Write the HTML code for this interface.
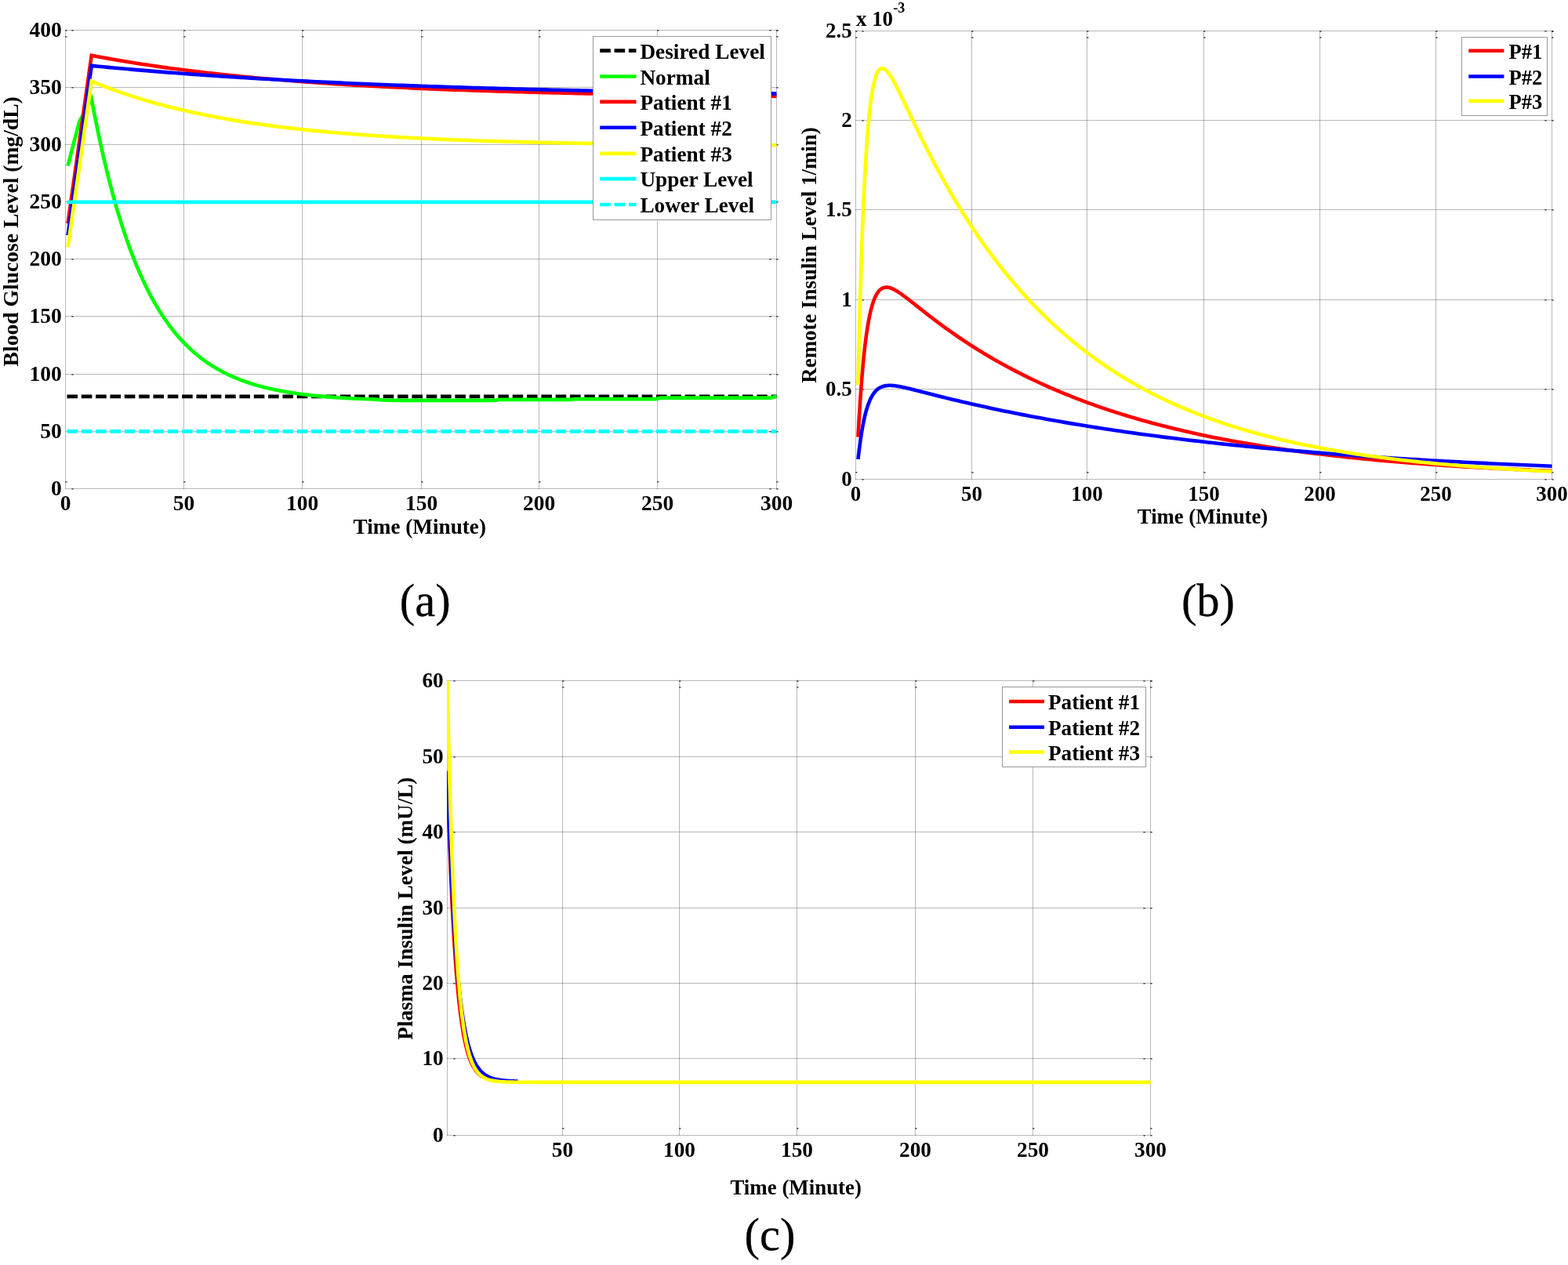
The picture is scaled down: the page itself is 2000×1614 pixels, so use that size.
<!DOCTYPE html>
<html lang="en">
<head>
<meta charset="utf-8">
<title>Glucose and insulin level simulation plots</title>
<style>
html,body{margin:0;padding:0;background:#fff;}
body{width:2000px;height:1614px;overflow:hidden;}
svg{display:block;}
text{font-family:"Liberation Serif", "DejaVu Serif", serif;fill:#000;}
.b{font-weight:bold;}
.r{font-weight:normal;stroke:#000;stroke-width:0.3px;}
</style>
</head>
<body>
<svg width="2000" height="1614" viewBox="0 0 2000 1614">
<defs>
<clipPath id="clip-a"><rect x="83" y="35.5" width="908" height="591"/></clipPath>
<clipPath id="clip-b"><rect x="1091" y="36.5" width="889" height="578"/></clipPath>
<clipPath id="clip-c"><rect x="570" y="865.5" width="898" height="586"/></clipPath>
</defs>
<rect x="0" y="0" width="2000" height="1614" fill="#ffffff"/>
<g id="plot-a">
<path d="M83.5 38 V624 M234.5 38 V624 M385.5 38 V624 M537.5 38 V624 M687.5 38 V624 M838.5 38 V624 M990.5 38 V624" fill="none" stroke="#000" stroke-opacity="0.28" stroke-width="1"/>
<path d="M83 623.5 H991 M83 550.5 H991 M83 477.5 H991 M83 403.5 H991 M83 330.5 H991 M83 257.5 H991 M83 184.5 H991 M83 111.5 H991 M83 38.5 H991" fill="none" stroke="#000" stroke-opacity="0.28" stroke-width="1"/>
<g fill="#2a2a2a" fill-opacity="0.85"><rect x="83.1" y="38.2" width="2.4" height="1.5"/><rect x="83.1" y="46.2" width="2.4" height="1.5"/><rect x="83.1" y="614.1" width="2.4" height="1.5"/><rect x="234.1" y="38.2" width="2.4" height="1.5"/><rect x="234.1" y="46.2" width="2.4" height="1.5"/><rect x="234.1" y="614.1" width="2.4" height="1.5"/><rect x="385.1" y="38.2" width="2.4" height="1.5"/><rect x="385.1" y="46.2" width="2.4" height="1.5"/><rect x="385.1" y="614.1" width="2.4" height="1.5"/><rect x="537.1" y="38.2" width="2.4" height="1.5"/><rect x="537.1" y="46.2" width="2.4" height="1.5"/><rect x="537.1" y="614.1" width="2.4" height="1.5"/><rect x="687.1" y="38.2" width="2.4" height="1.5"/><rect x="687.1" y="46.2" width="2.4" height="1.5"/><rect x="687.1" y="614.1" width="2.4" height="1.5"/><rect x="838.1" y="38.2" width="2.4" height="1.5"/><rect x="838.1" y="46.2" width="2.4" height="1.5"/><rect x="838.1" y="614.1" width="2.4" height="1.5"/><rect x="990.1" y="38.2" width="2.4" height="1.5"/><rect x="990.1" y="46.2" width="2.4" height="1.5"/><rect x="990.1" y="614.1" width="2.4" height="1.5"/><rect x="91.3" y="623.1" width="2.4" height="1.5"/><rect x="981.3" y="623.1" width="2.4" height="1.5"/><rect x="990.3" y="623.1" width="2.4" height="1.5"/><rect x="91.3" y="550.1" width="2.4" height="1.5"/><rect x="981.3" y="550.1" width="2.4" height="1.5"/><rect x="990.3" y="550.1" width="2.4" height="1.5"/><rect x="91.3" y="477.1" width="2.4" height="1.5"/><rect x="981.3" y="477.1" width="2.4" height="1.5"/><rect x="990.3" y="477.1" width="2.4" height="1.5"/><rect x="91.3" y="403.1" width="2.4" height="1.5"/><rect x="981.3" y="403.1" width="2.4" height="1.5"/><rect x="990.3" y="403.1" width="2.4" height="1.5"/><rect x="91.3" y="330.1" width="2.4" height="1.5"/><rect x="981.3" y="330.1" width="2.4" height="1.5"/><rect x="990.3" y="330.1" width="2.4" height="1.5"/><rect x="91.3" y="257.1" width="2.4" height="1.5"/><rect x="981.3" y="257.1" width="2.4" height="1.5"/><rect x="990.3" y="257.1" width="2.4" height="1.5"/><rect x="91.3" y="184.1" width="2.4" height="1.5"/><rect x="981.3" y="184.1" width="2.4" height="1.5"/><rect x="990.3" y="184.1" width="2.4" height="1.5"/><rect x="91.3" y="111.1" width="2.4" height="1.5"/><rect x="981.3" y="111.1" width="2.4" height="1.5"/><rect x="990.3" y="111.1" width="2.4" height="1.5"/><rect x="91.3" y="38.1" width="2.4" height="1.5"/><rect x="981.3" y="38.1" width="2.4" height="1.5"/><rect x="990.3" y="38.1" width="2.4" height="1.5"/></g>
<text x="83.5" y="650.9" text-anchor="middle" font-size="27.5" class="b">0</text>
<text x="234.5" y="650.9" text-anchor="middle" font-size="27.5" class="b">50</text>
<text x="385.5" y="650.9" text-anchor="middle" font-size="27.5" class="b">100</text>
<text x="537.5" y="650.9" text-anchor="middle" font-size="27.5" class="b">150</text>
<text x="687.5" y="650.9" text-anchor="middle" font-size="27.5" class="b">200</text>
<text x="838.5" y="650.9" text-anchor="middle" font-size="27.5" class="b">250</text>
<text x="990.5" y="650.9" text-anchor="middle" font-size="27.5" class="b">300</text>
<text x="78.8" y="632.2" text-anchor="end" font-size="27.5" class="b">0</text>
<text x="78.8" y="559.2" text-anchor="end" font-size="27.5" class="b">50</text>
<text x="78.8" y="486.2" text-anchor="end" font-size="27.5" class="b">100</text>
<text x="78.8" y="412.2" text-anchor="end" font-size="27.5" class="b">150</text>
<text x="78.8" y="339.2" text-anchor="end" font-size="27.5" class="b">200</text>
<text x="78.8" y="266.2" text-anchor="end" font-size="27.5" class="b">250</text>
<text x="78.8" y="193.2" text-anchor="end" font-size="27.5" class="b">300</text>
<text x="78.8" y="120.2" text-anchor="end" font-size="27.5" class="b">350</text>
<text x="78.8" y="47.2" text-anchor="end" font-size="27.5" class="b">400</text>
<path d="M85.47 505.84 L990.5 505.84" fill="none" stroke="#000000" stroke-width="4.6" stroke-linejoin="miter" stroke-miterlimit="4" stroke-linecap="butt" clip-path="url(#clip-a)" stroke-dasharray="13.6 4.73"/>
<path d="M86.52 211.66 L101.04 155.5 L116.76 126.25 L119.78 142.46 L125.83 172.33 L131.87 199.79 L137.92 225.03 L143.97 248.23 L150.01 269.54 L156.06 289.14 L162.11 307.14 L168.15 323.69 L174.2 338.9 L180.25 352.88 L186.29 365.73 L192.34 377.55 L198.39 388.4 L204.43 398.38 L210.48 407.56 L216.53 415.99 L222.57 423.74 L228.62 430.86 L234.67 437.41 L240.71 443.43 L246.76 448.97 L252.81 454.06 L258.85 458.73 L264.9 463.04 L270.95 466.99 L276.99 470.62 L283.04 473.97 L289.09 477.04 L295.13 479.87 L301.18 482.46 L307.23 484.85 L313.27 487.05 L319.32 489.07 L325.37 490.93 L331.41 492.64 L337.46 494.21 L343.51 495.65 L349.55 496.98 L355.6 498.2 L361.65 499.33 L367.69 500.36 L373.74 501.31 L379.79 502.19 L385.83 502.99 L391.88 503.73 L397.93 504.42 L403.97 505.04 L410.02 505.62 L416.07 506.15 L422.11 506.64 L428.16 507.09 L434.21 507.5 L440.25 507.88 L446.3 508.23 L452.35 508.52 L458.39 508.77 L464.44 509.01 L470.49 509.22 L476.53 509.41 L488.63 510.45 L506.77 510.89 L630.72 510.89 L636.77 509.86 L727.47 509.86 L733.52 509.13 L836.31 509.13 L842.36 507.67 L982.94 507.67 L990.5 505.62" fill="none" stroke="#00ff00" stroke-width="4.6" stroke-linejoin="miter" stroke-miterlimit="4" stroke-linecap="butt" clip-path="url(#clip-a)"/>
<path d="M86.52 285.08 L116.76 70.68 L119.78 71.26 L125.83 72.4 L131.87 73.52 L137.92 74.62 L143.97 75.69 L150.01 76.74 L156.06 77.77 L162.11 78.78 L168.15 79.76 L174.2 80.73 L180.25 81.67 L186.29 82.6 L192.34 83.5 L198.39 84.38 L204.43 85.25 L210.48 86.1 L216.53 86.93 L222.57 87.74 L228.62 88.53 L234.67 89.31 L240.71 90.07 L246.76 90.82 L252.81 91.55 L258.85 92.26 L264.9 92.96 L270.95 93.64 L276.99 94.31 L283.04 94.96 L289.09 95.6 L295.13 96.23 L301.18 96.85 L307.23 97.45 L313.27 98.03 L319.32 98.61 L325.37 99.17 L331.41 99.72 L337.46 100.26 L343.51 100.79 L349.55 101.31 L355.6 101.81 L361.65 102.31 L367.69 102.79 L373.74 103.27 L379.79 103.73 L385.83 104.19 L391.88 104.63 L397.93 105.07 L403.97 105.49 L410.02 105.91 L416.07 106.32 L422.11 106.72 L428.16 107.11 L434.21 107.49 L440.25 107.86 L446.3 108.23 L452.35 108.59 L458.39 108.94 L464.44 109.28 L470.49 109.62 L476.53 109.95 L482.58 110.27 L488.63 110.58 L494.67 110.89 L500.72 111.19 L506.77 111.49 L512.81 111.78 L518.86 112.06 L524.91 112.34 L530.95 112.61 L537 112.88 L543.05 113.13 L549.09 113.39 L555.14 113.64 L561.19 113.88 L567.23 114.12 L573.28 114.35 L579.33 114.58 L585.37 114.8 L591.42 115.02 L597.47 115.24 L603.51 115.45 L609.56 115.65 L615.61 115.85 L621.65 116.05 L627.7 116.24 L633.75 116.43 L639.79 116.61 L645.84 116.79 L651.89 116.97 L657.93 117.14 L663.98 117.31 L670.03 117.48 L676.07 117.64 L682.12 117.8 L688.17 117.95 L694.21 118.1 L700.26 118.25 L706.31 118.4 L712.35 118.54 L718.4 118.68 L724.45 118.81 L730.49 118.95 L736.54 119.08 L742.59 119.21 L748.63 119.33 L754.68 119.45 L760.73 119.57 L766.77 119.69 L772.82 119.8 L778.87 119.92 L784.91 120.03 L790.96 120.13 L797.01 120.24 L803.05 120.34 L809.1 120.44 L815.15 120.54 L821.19 120.64 L827.24 120.73 L833.29 120.83 L839.33 120.92 L845.38 121 L851.43 121.09 L857.47 121.18 L863.52 121.26 L869.57 121.34 L875.61 121.42 L881.66 121.5 L887.71 121.57 L893.75 121.65 L899.8 121.72 L905.85 121.79 L911.89 121.86 L917.94 121.93 L923.99 122 L930.03 122.06 L936.08 122.13 L942.13 122.19 L948.17 122.25 L954.22 122.31 L960.27 122.37 L966.31 122.43 L972.36 122.49 L978.41 122.54 L984.45 122.59 L990.5 122.65" fill="none" stroke="#ff0000" stroke-width="4.6" stroke-linejoin="miter" stroke-miterlimit="4" stroke-linecap="butt" clip-path="url(#clip-a)"/>
<path d="M86.52 300.29 L116.76 83.84 L119.78 84.14 L125.83 84.72 L131.87 85.31 L137.92 85.88 L143.97 86.44 L150.01 87 L156.06 87.54 L162.11 88.08 L168.15 88.61 L174.2 89.14 L180.25 89.65 L186.29 90.16 L192.34 90.66 L198.39 91.15 L204.43 91.64 L210.48 92.12 L216.53 92.59 L222.57 93.06 L228.62 93.51 L234.67 93.97 L240.71 94.41 L246.76 94.85 L252.81 95.28 L258.85 95.71 L264.9 96.12 L270.95 96.54 L276.99 96.94 L283.04 97.34 L289.09 97.74 L295.13 98.13 L301.18 98.51 L307.23 98.89 L313.27 99.26 L319.32 99.63 L325.37 99.99 L331.41 100.35 L337.46 100.7 L343.51 101.04 L349.55 101.38 L355.6 101.72 L361.65 102.05 L367.69 102.38 L373.74 102.7 L379.79 103.01 L385.83 103.32 L391.88 103.63 L397.93 103.93 L403.97 104.23 L410.02 104.53 L416.07 104.81 L422.11 105.1 L428.16 105.38 L434.21 105.66 L440.25 105.93 L446.3 106.2 L452.35 106.46 L458.39 106.72 L464.44 106.98 L470.49 107.24 L476.53 107.48 L482.58 107.73 L488.63 107.97 L494.67 108.21 L500.72 108.45 L506.77 108.68 L512.81 108.91 L518.86 109.13 L524.91 109.35 L530.95 109.57 L537 109.79 L543.05 110 L549.09 110.21 L555.14 110.41 L561.19 110.62 L567.23 110.82 L573.28 111.01 L579.33 111.21 L585.37 111.4 L591.42 111.59 L597.47 111.77 L603.51 111.95 L609.56 112.13 L615.61 112.31 L621.65 112.49 L627.7 112.66 L633.75 112.83 L639.79 113 L645.84 113.16 L651.89 113.32 L657.93 113.48 L663.98 113.64 L670.03 113.8 L676.07 113.95 L682.12 114.1 L688.17 114.25 L694.21 114.39 L700.26 114.54 L706.31 114.68 L712.35 114.82 L718.4 114.96 L724.45 115.1 L730.49 115.23 L736.54 115.36 L742.59 115.49 L748.63 115.62 L754.68 115.75 L760.73 115.87 L766.77 115.99 L772.82 116.11 L778.87 116.23 L784.91 116.35 L790.96 116.46 L797.01 116.58 L803.05 116.69 L809.1 116.8 L815.15 116.91 L821.19 117.02 L827.24 117.12 L833.29 117.23 L839.33 117.33 L845.38 117.43 L851.43 117.53 L857.47 117.63 L863.52 117.73 L869.57 117.82 L875.61 117.91 L881.66 118.01 L887.71 118.1 L893.75 118.19 L899.8 118.28 L905.85 118.36 L911.89 118.45 L917.94 118.53 L923.99 118.62 L930.03 118.7 L936.08 118.78 L942.13 118.86 L948.17 118.94 L954.22 119.02 L960.27 119.09 L966.31 119.17 L972.36 119.24 L978.41 119.31 L984.45 119.39 L990.5 119.46" fill="none" stroke="#0000ff" stroke-width="4.6" stroke-linejoin="miter" stroke-miterlimit="4" stroke-linecap="butt" clip-path="url(#clip-a)"/>
<path d="M86.52 315.64 L116.76 103.58 L119.78 104.84 L125.83 107.31 L131.87 109.7 L137.92 112.02 L143.97 114.27 L150.01 116.45 L156.06 118.56 L162.11 120.61 L168.15 122.6 L174.2 124.53 L180.25 126.39 L186.29 128.21 L192.34 129.96 L198.39 131.67 L204.43 133.32 L210.48 134.92 L216.53 136.48 L222.57 137.99 L228.62 139.45 L234.67 140.86 L240.71 142.24 L246.76 143.57 L252.81 144.86 L258.85 146.12 L264.9 147.33 L270.95 148.51 L276.99 149.65 L283.04 150.76 L289.09 151.83 L295.13 152.87 L301.18 153.88 L307.23 154.86 L313.27 155.81 L319.32 156.74 L325.37 157.63 L331.41 158.49 L337.46 159.33 L343.51 160.15 L349.55 160.94 L355.6 161.7 L361.65 162.45 L367.69 163.17 L373.74 163.87 L379.79 164.54 L385.83 165.2 L391.88 165.84 L397.93 166.45 L403.97 167.05 L410.02 167.63 L416.07 168.2 L422.11 168.74 L428.16 169.27 L434.21 169.78 L440.25 170.28 L446.3 170.76 L452.35 171.23 L458.39 171.69 L464.44 172.13 L470.49 172.55 L476.53 172.97 L482.58 173.37 L488.63 173.76 L494.67 174.14 L500.72 174.5 L506.77 174.86 L512.81 175.2 L518.86 175.53 L524.91 175.86 L530.95 176.17 L537 176.48 L543.05 176.77 L549.09 177.06 L555.14 177.33 L561.19 177.6 L567.23 177.86 L573.28 178.12 L579.33 178.36 L585.37 178.6 L591.42 178.83 L597.47 179.05 L603.51 179.27 L609.56 179.48 L615.61 179.69 L621.65 179.88 L627.7 180.08 L633.75 180.26 L639.79 180.44 L645.84 180.62 L651.89 180.79 L657.93 180.95 L663.98 181.11 L670.03 181.26 L676.07 181.41 L682.12 181.56 L688.17 181.7 L694.21 181.84 L700.26 181.97 L706.31 182.1 L712.35 182.22 L718.4 182.34 L724.45 182.46 L730.49 182.57 L736.54 182.69 L742.59 182.79 L748.63 182.9 L754.68 183 L760.73 183.09 L766.77 183.19 L772.82 183.28 L778.87 183.37 L784.91 183.45 L790.96 183.54 L797.01 183.62 L803.05 183.7 L809.1 183.77 L815.15 183.85 L821.19 183.92 L827.24 183.99 L833.29 184.06 L839.33 184.12 L845.38 184.19 L851.43 184.25 L857.47 184.31 L863.52 184.36 L869.57 184.42 L875.61 184.47 L881.66 184.53 L887.71 184.58 L893.75 184.63 L899.8 184.68 L905.85 184.72 L911.89 184.77 L917.94 184.81 L923.99 184.85 L930.03 184.89 L936.08 184.93 L942.13 184.97 L948.17 185.01 L954.22 185.05 L960.27 185.08 L966.31 185.12 L972.36 185.15 L978.41 185.18 L984.45 185.21 L990.5 185.24" fill="none" stroke="#ffff00" stroke-width="4.6" stroke-linejoin="miter" stroke-miterlimit="4" stroke-linecap="butt" clip-path="url(#clip-a)"/>
<path d="M85.47 257.88 L990.5 257.88" fill="none" stroke="#00ffff" stroke-width="4.6" stroke-linejoin="miter" stroke-miterlimit="4" stroke-linecap="butt" clip-path="url(#clip-a)"/>
<path d="M85.47 550.38 L990.5 550.38" fill="none" stroke="#00ffff" stroke-width="4.6" stroke-linejoin="miter" stroke-miterlimit="4" stroke-linecap="butt" clip-path="url(#clip-a)" stroke-dasharray="13.6 4.73"/>
<rect x="756.5" y="46.5" width="227" height="234" fill="#fff" stroke="#999" stroke-width="1"/>
<path d="M765.25 64.6 H811.5" stroke="#000000" stroke-width="4.6" stroke-dasharray="13.6 4.73"/>
<text x="816.4" y="74.7" font-size="27.3" class="b">Desired Level</text>
<path d="M765.25 97.5 H811.5" stroke="#00ff00" stroke-width="4.6"/>
<text x="816.4" y="107.6" font-size="27.3" class="b">Normal</text>
<path d="M765.25 129.9 H811.5" stroke="#ff0000" stroke-width="4.6"/>
<text x="816.4" y="140" font-size="27.3" class="b">Patient #1</text>
<path d="M765.25 162.8 H811.5" stroke="#0000ff" stroke-width="4.6"/>
<text x="816.4" y="172.9" font-size="27.3" class="b">Patient #2</text>
<path d="M765.25 195.9 H811.5" stroke="#ffff00" stroke-width="4.6"/>
<text x="816.4" y="206" font-size="27.3" class="b">Patient #3</text>
<path d="M765.25 228.1 H811.5" stroke="#00ffff" stroke-width="4.6"/>
<text x="816.4" y="238.2" font-size="27.3" class="b">Upper Level</text>
<path d="M765.25 261 H811.5" stroke="#00ffff" stroke-width="4.6" stroke-dasharray="13.6 4.73"/>
<text x="816.4" y="271.1" font-size="27.3" class="b">Lower Level</text>
<text transform="translate(23,295.3) rotate(-90)" text-anchor="middle" font-size="27.6" class="b">Blood Glucose Level (mg/dL)</text>
<text x="535.3" y="680.6" text-anchor="middle" font-size="27.2" class="b">Time (Minute)</text>
</g>
<text x="542.3" y="786" text-anchor="middle" font-size="58.5" class="r">(a)</text>
<g id="plot-b">
<path d="M1091.5 39 V612 M1239.5 39 V612 M1386.5 39 V612 M1535.5 39 V612 M1683.5 39 V612 M1831.5 39 V612 M1979.5 39 V612" fill="none" stroke="#000" stroke-opacity="0.28" stroke-width="1"/>
<path d="M1091 611.5 H1980 M1091 496.5 H1980 M1091 382.5 H1980 M1091 267.5 H1980 M1091 153.5 H1980 M1091 39.5 H1980" fill="none" stroke="#000" stroke-opacity="0.28" stroke-width="1"/>
<g fill="#2a2a2a" fill-opacity="0.85"><rect x="1091.1" y="39.2" width="2.4" height="1.5"/><rect x="1091.1" y="47.2" width="2.4" height="1.5"/><rect x="1091.1" y="602.1" width="2.4" height="1.5"/><rect x="1239.1" y="39.2" width="2.4" height="1.5"/><rect x="1239.1" y="47.2" width="2.4" height="1.5"/><rect x="1239.1" y="602.1" width="2.4" height="1.5"/><rect x="1386.1" y="39.2" width="2.4" height="1.5"/><rect x="1386.1" y="47.2" width="2.4" height="1.5"/><rect x="1386.1" y="602.1" width="2.4" height="1.5"/><rect x="1535.1" y="39.2" width="2.4" height="1.5"/><rect x="1535.1" y="47.2" width="2.4" height="1.5"/><rect x="1535.1" y="602.1" width="2.4" height="1.5"/><rect x="1683.1" y="39.2" width="2.4" height="1.5"/><rect x="1683.1" y="47.2" width="2.4" height="1.5"/><rect x="1683.1" y="602.1" width="2.4" height="1.5"/><rect x="1831.1" y="39.2" width="2.4" height="1.5"/><rect x="1831.1" y="47.2" width="2.4" height="1.5"/><rect x="1831.1" y="602.1" width="2.4" height="1.5"/><rect x="1979.1" y="39.2" width="2.4" height="1.5"/><rect x="1979.1" y="47.2" width="2.4" height="1.5"/><rect x="1979.1" y="602.1" width="2.4" height="1.5"/><rect x="1099.3" y="611.1" width="2.4" height="1.5"/><rect x="1970.3" y="611.1" width="2.4" height="1.5"/><rect x="1979.3" y="611.1" width="2.4" height="1.5"/><rect x="1099.3" y="496.1" width="2.4" height="1.5"/><rect x="1970.3" y="496.1" width="2.4" height="1.5"/><rect x="1979.3" y="496.1" width="2.4" height="1.5"/><rect x="1099.3" y="382.1" width="2.4" height="1.5"/><rect x="1970.3" y="382.1" width="2.4" height="1.5"/><rect x="1979.3" y="382.1" width="2.4" height="1.5"/><rect x="1099.3" y="267.1" width="2.4" height="1.5"/><rect x="1970.3" y="267.1" width="2.4" height="1.5"/><rect x="1979.3" y="267.1" width="2.4" height="1.5"/><rect x="1099.3" y="153.1" width="2.4" height="1.5"/><rect x="1970.3" y="153.1" width="2.4" height="1.5"/><rect x="1979.3" y="153.1" width="2.4" height="1.5"/><rect x="1099.3" y="39.1" width="2.4" height="1.5"/><rect x="1970.3" y="39.1" width="2.4" height="1.5"/><rect x="1979.3" y="39.1" width="2.4" height="1.5"/></g>
<text x="1091.5" y="638.5" text-anchor="middle" font-size="26.9" class="b">0</text>
<text x="1239.5" y="638.5" text-anchor="middle" font-size="26.9" class="b">50</text>
<text x="1386.5" y="638.5" text-anchor="middle" font-size="26.9" class="b">100</text>
<text x="1535.5" y="638.5" text-anchor="middle" font-size="26.9" class="b">150</text>
<text x="1683.5" y="638.5" text-anchor="middle" font-size="26.9" class="b">200</text>
<text x="1831.5" y="638.5" text-anchor="middle" font-size="26.9" class="b">250</text>
<text x="1979.5" y="638.5" text-anchor="middle" font-size="26.9" class="b">300</text>
<text x="1086.7" y="620.3" text-anchor="end" font-size="26.9" class="b">0</text>
<text x="1086.7" y="505.3" text-anchor="end" font-size="26.9" class="b">0.5</text>
<text x="1086.7" y="391.3" text-anchor="end" font-size="26.9" class="b">1</text>
<text x="1086.7" y="276.3" text-anchor="end" font-size="26.9" class="b">1.5</text>
<text x="1086.7" y="162.3" text-anchor="end" font-size="26.9" class="b">2</text>
<text x="1086.7" y="48.3" text-anchor="end" font-size="26.9" class="b">2.5</text>
<path d="M1094.46 557.51 L1095.94 531 L1097.42 507.78 L1098.9 487.47 L1100.38 469.73 L1101.86 454.25 L1103.34 440.77 L1104.82 429.05 L1106.3 418.89 L1107.78 410.09 L1109.26 402.5 L1110.74 395.97 L1112.22 390.39 L1113.7 385.63 L1115.18 381.6 L1116.66 378.22 L1118.14 375.4 L1119.62 373.08 L1121.1 371.19 L1122.58 369.7 L1124.06 368.55 L1125.54 367.69 L1127.02 367.1 L1128.5 366.74 L1129.98 366.58 L1131.46 366.6 L1132.94 366.78 L1134.42 367.1 L1135.9 367.54 L1137.38 368.08 L1138.86 368.71 L1140.34 369.43 L1141.82 370.21 L1143.3 371.06 L1144.78 371.95 L1146.26 372.9 L1147.74 373.88 L1149.22 374.9 L1150.7 375.95 L1152.18 377.02 L1153.66 378.12 L1155.14 379.23 L1156.62 380.36 L1158.1 381.5 L1159.58 382.65 L1161.06 383.81 L1162.54 384.97 L1164.02 386.14 L1165.5 387.31 L1166.98 388.49 L1168.46 389.67 L1169.94 390.84 L1171.42 392.02 L1172.9 393.2 L1174.38 394.37 L1175.86 395.54 L1177.34 396.71 L1178.82 397.87 L1180.3 399.04 L1181.78 400.19 L1183.26 401.35 L1184.74 402.5 L1186.22 403.64 L1187.7 404.78 L1189.18 405.92 L1190.66 407.05 L1192.14 408.17 L1193.62 409.29 L1195.1 410.41 L1196.58 411.51 L1198.06 412.62 L1199.54 413.72 L1201.02 414.81 L1202.5 415.89 L1203.98 416.97 L1205.46 418.05 L1206.94 419.12 L1208.42 420.18 L1209.9 421.24 L1215.82 425.42 L1221.74 429.5 L1227.66 433.5 L1233.58 437.41 L1239.5 441.24 L1245.42 444.98 L1251.34 448.64 L1257.26 452.22 L1263.18 455.72 L1269.1 459.14 L1275.02 462.49 L1280.94 465.76 L1286.86 468.97 L1292.78 472.1 L1298.7 475.16 L1304.62 478.16 L1310.54 481.09 L1316.46 483.96 L1322.38 486.76 L1328.3 489.5 L1334.22 492.18 L1340.14 494.8 L1346.06 497.37 L1351.98 499.88 L1357.9 502.33 L1363.82 504.73 L1369.74 507.08 L1375.66 509.37 L1381.58 511.62 L1387.5 513.81 L1393.42 515.96 L1399.34 518.06 L1405.26 520.11 L1411.18 522.12 L1417.1 524.08 L1423.02 526.01 L1428.94 527.88 L1434.86 529.72 L1440.78 531.52 L1446.7 533.28 L1452.62 535 L1458.54 536.68 L1464.46 538.32 L1470.38 539.93 L1476.3 541.5 L1482.22 543.04 L1488.14 544.55 L1494.06 546.02 L1499.98 547.46 L1505.9 548.86 L1511.82 550.24 L1517.74 551.59 L1523.66 552.9 L1529.58 554.19 L1535.5 555.45 L1541.42 556.68 L1547.34 557.89 L1553.26 559.07 L1559.18 560.22 L1565.1 561.34 L1571.02 562.45 L1576.94 563.53 L1582.86 564.58 L1588.78 565.61 L1594.7 566.62 L1600.62 567.61 L1606.54 568.57 L1612.46 569.51 L1618.38 570.44 L1624.3 571.34 L1630.22 572.22 L1636.14 573.08 L1642.06 573.93 L1647.98 574.75 L1653.9 575.56 L1659.82 576.35 L1665.74 577.12 L1671.66 577.88 L1677.58 578.62 L1683.5 579.34 L1689.42 580.05 L1695.34 580.74 L1701.26 581.42 L1707.18 582.08 L1713.1 582.72 L1719.02 583.36 L1724.94 583.97 L1730.86 584.58 L1736.78 585.17 L1742.7 585.75 L1748.62 586.32 L1754.54 586.87 L1760.46 587.41 L1766.38 587.94 L1772.3 588.46 L1778.22 588.96 L1784.14 589.46 L1790.06 589.94 L1795.98 590.42 L1801.9 590.88 L1807.82 591.33 L1813.74 591.78 L1819.66 592.21 L1825.58 592.63 L1831.5 593.05 L1837.42 593.45 L1843.34 593.85 L1849.26 594.24 L1855.18 594.62 L1861.1 594.99 L1867.02 595.35 L1872.94 595.71 L1878.86 596.05 L1884.78 596.39 L1890.7 596.73 L1896.62 597.05 L1902.54 597.37 L1908.46 597.68 L1914.38 597.98 L1920.3 598.28 L1926.22 598.57 L1932.14 598.85 L1938.06 599.13 L1943.98 599.4 L1949.9 599.67 L1955.82 599.93 L1961.74 600.18 L1967.66 600.43 L1973.58 600.68 L1979.5 600.91" fill="none" stroke="#ff0000" stroke-width="4.6" stroke-linejoin="miter" stroke-miterlimit="4" stroke-linecap="butt" clip-path="url(#clip-b)"/>
<path d="M1094.46 586.1 L1095.94 573.34 L1097.42 562.18 L1098.9 552.41 L1100.38 543.87 L1101.86 536.41 L1103.34 529.91 L1104.82 524.24 L1106.3 519.31 L1107.78 515.03 L1109.26 511.31 L1110.74 508.1 L1112.22 505.32 L1113.7 502.93 L1115.18 500.89 L1116.66 499.14 L1118.14 497.65 L1119.62 496.4 L1121.1 495.35 L1122.58 494.48 L1124.06 493.76 L1125.54 493.18 L1127.02 492.72 L1128.5 492.37 L1129.98 492.12 L1131.46 491.94 L1132.94 491.84 L1134.42 491.8 L1135.9 491.81 L1137.38 491.87 L1138.86 491.98 L1140.34 492.12 L1141.82 492.3 L1143.3 492.5 L1144.78 492.73 L1146.26 492.98 L1147.74 493.25 L1149.22 493.54 L1150.7 493.84 L1152.18 494.15 L1153.66 494.47 L1155.14 494.8 L1156.62 495.14 L1158.1 495.49 L1159.58 495.84 L1161.06 496.2 L1162.54 496.56 L1164.02 496.93 L1165.5 497.3 L1166.98 497.67 L1168.46 498.04 L1169.94 498.42 L1171.42 498.79 L1172.9 499.17 L1174.38 499.55 L1175.86 499.93 L1177.34 500.31 L1178.82 500.68 L1180.3 501.06 L1181.78 501.44 L1183.26 501.82 L1184.74 502.19 L1186.22 502.57 L1187.7 502.95 L1189.18 503.32 L1190.66 503.7 L1192.14 504.07 L1193.62 504.44 L1195.1 504.81 L1196.58 505.18 L1198.06 505.55 L1199.54 505.92 L1201.02 506.29 L1202.5 506.65 L1203.98 507.02 L1205.46 507.38 L1206.94 507.74 L1208.42 508.11 L1209.9 508.47 L1215.82 509.89 L1221.74 511.3 L1227.66 512.7 L1233.58 514.07 L1239.5 515.42 L1245.42 516.75 L1251.34 518.07 L1257.26 519.37 L1263.18 520.65 L1269.1 521.91 L1275.02 523.15 L1280.94 524.38 L1286.86 525.59 L1292.78 526.78 L1298.7 527.96 L1304.62 529.12 L1310.54 530.26 L1316.46 531.39 L1322.38 532.51 L1328.3 533.6 L1334.22 534.68 L1340.14 535.75 L1346.06 536.8 L1351.98 537.84 L1357.9 538.86 L1363.82 539.87 L1369.74 540.87 L1375.66 541.85 L1381.58 542.82 L1387.5 543.77 L1393.42 544.71 L1399.34 545.64 L1405.26 546.55 L1411.18 547.46 L1417.1 548.34 L1423.02 549.22 L1428.94 550.09 L1434.86 550.94 L1440.78 551.78 L1446.7 552.61 L1452.62 553.43 L1458.54 554.23 L1464.46 555.03 L1470.38 555.81 L1476.3 556.59 L1482.22 557.35 L1488.14 558.1 L1494.06 558.84 L1499.98 559.58 L1505.9 560.3 L1511.82 561.01 L1517.74 561.71 L1523.66 562.4 L1529.58 563.08 L1535.5 563.75 L1541.42 564.42 L1547.34 565.07 L1553.26 565.72 L1559.18 566.35 L1565.1 566.98 L1571.02 567.6 L1576.94 568.21 L1582.86 568.81 L1588.78 569.4 L1594.7 569.99 L1600.62 570.56 L1606.54 571.13 L1612.46 571.69 L1618.38 572.25 L1624.3 572.79 L1630.22 573.33 L1636.14 573.86 L1642.06 574.38 L1647.98 574.9 L1653.9 575.4 L1659.82 575.91 L1665.74 576.4 L1671.66 576.89 L1677.58 577.37 L1683.5 577.84 L1689.42 578.31 L1695.34 578.77 L1701.26 579.23 L1707.18 579.67 L1713.1 580.12 L1719.02 580.55 L1724.94 580.98 L1730.86 581.41 L1736.78 581.82 L1742.7 582.24 L1748.62 582.64 L1754.54 583.04 L1760.46 583.44 L1766.38 583.83 L1772.3 584.21 L1778.22 584.59 L1784.14 584.96 L1790.06 585.33 L1795.98 585.7 L1801.9 586.06 L1807.82 586.41 L1813.74 586.76 L1819.66 587.1 L1825.58 587.44 L1831.5 587.77 L1837.42 588.1 L1843.34 588.43 L1849.26 588.75 L1855.18 589.06 L1861.1 589.38 L1867.02 589.68 L1872.94 589.99 L1878.86 590.29 L1884.78 590.58 L1890.7 590.87 L1896.62 591.16 L1902.54 591.44 L1908.46 591.72 L1914.38 591.99 L1920.3 592.26 L1926.22 592.53 L1932.14 592.79 L1938.06 593.05 L1943.98 593.31 L1949.9 593.56 L1955.82 593.81 L1961.74 594.06 L1967.66 594.3 L1973.58 594.54 L1979.5 594.77" fill="none" stroke="#0000ff" stroke-width="4.6" stroke-linejoin="miter" stroke-miterlimit="4" stroke-linecap="butt" clip-path="url(#clip-b)"/>
<path d="M1094.46 491 L1095.94 426.73 L1097.42 371.58 L1098.9 324.32 L1100.38 283.91 L1101.86 249.41 L1103.34 220.05 L1104.82 195.13 L1106.3 174.07 L1107.78 156.33 L1109.26 141.49 L1110.74 129.14 L1112.22 118.95 L1113.7 110.64 L1115.18 103.94 L1116.66 98.65 L1118.14 94.56 L1119.62 91.51 L1121.1 89.37 L1122.58 88.01 L1124.06 87.32 L1125.54 87.21 L1127.02 87.6 L1128.5 88.41 L1129.98 89.6 L1131.46 91.1 L1132.94 92.87 L1134.42 94.87 L1135.9 97.07 L1137.38 99.44 L1138.86 101.95 L1140.34 104.58 L1141.82 107.31 L1143.3 110.13 L1144.78 113.01 L1146.26 115.96 L1147.74 118.95 L1149.22 121.98 L1150.7 125.04 L1152.18 128.12 L1153.66 131.21 L1155.14 134.32 L1156.62 137.44 L1158.1 140.56 L1159.58 143.68 L1161.06 146.79 L1162.54 149.9 L1164.02 153.01 L1165.5 156.1 L1166.98 159.18 L1168.46 162.26 L1169.94 165.31 L1171.42 168.36 L1172.9 171.38 L1174.38 174.4 L1175.86 177.39 L1177.34 180.37 L1178.82 183.33 L1180.3 186.28 L1181.78 189.2 L1183.26 192.11 L1184.74 195 L1186.22 197.87 L1187.7 200.73 L1189.18 203.56 L1190.66 206.38 L1192.14 209.18 L1193.62 211.95 L1195.1 214.71 L1196.58 217.46 L1198.06 220.18 L1199.54 222.89 L1201.02 225.57 L1202.5 228.24 L1203.98 230.89 L1205.46 233.52 L1206.94 236.14 L1208.42 238.73 L1209.9 241.31 L1215.82 251.45 L1221.74 261.31 L1227.66 270.91 L1233.58 280.24 L1239.5 289.31 L1245.42 298.14 L1251.34 306.72 L1257.26 315.07 L1263.18 323.19 L1269.1 331.09 L1275.02 338.77 L1280.94 346.24 L1286.86 353.51 L1292.78 360.58 L1298.7 367.45 L1304.62 374.14 L1310.54 380.64 L1316.46 386.97 L1322.38 393.12 L1328.3 399.1 L1334.22 404.92 L1340.14 410.58 L1346.06 416.08 L1351.98 421.44 L1357.9 426.64 L1363.82 431.71 L1369.74 436.63 L1375.66 441.42 L1381.58 446.08 L1387.5 450.61 L1393.42 455.02 L1399.34 459.31 L1405.26 463.48 L1411.18 467.53 L1417.1 471.48 L1423.02 475.31 L1428.94 479.04 L1434.86 482.67 L1440.78 486.2 L1446.7 489.63 L1452.62 492.97 L1458.54 496.22 L1464.46 499.38 L1470.38 502.45 L1476.3 505.44 L1482.22 508.34 L1488.14 511.17 L1494.06 513.92 L1499.98 516.59 L1505.9 519.19 L1511.82 521.72 L1517.74 524.18 L1523.66 526.57 L1529.58 528.9 L1535.5 531.16 L1541.42 533.36 L1547.34 535.5 L1553.26 537.58 L1559.18 539.61 L1565.1 541.58 L1571.02 543.49 L1576.94 545.36 L1582.86 547.17 L1588.78 548.93 L1594.7 550.65 L1600.62 552.31 L1606.54 553.93 L1612.46 555.51 L1618.38 557.05 L1624.3 558.54 L1630.22 559.99 L1636.14 561.4 L1642.06 562.77 L1647.98 564.11 L1653.9 565.41 L1659.82 566.67 L1665.74 567.9 L1671.66 569.09 L1677.58 570.25 L1683.5 571.38 L1689.42 572.48 L1695.34 573.55 L1701.26 574.59 L1707.18 575.6 L1713.1 576.58 L1719.02 577.54 L1724.94 578.47 L1730.86 579.38 L1736.78 580.26 L1742.7 581.11 L1748.62 581.95 L1754.54 582.75 L1760.46 583.54 L1766.38 584.31 L1772.3 585.05 L1778.22 585.78 L1784.14 586.48 L1790.06 587.17 L1795.98 587.83 L1801.9 588.48 L1807.82 589.11 L1813.74 589.73 L1819.66 590.32 L1825.58 590.9 L1831.5 591.47 L1837.42 592.02 L1843.34 592.55 L1849.26 593.07 L1855.18 593.57 L1861.1 594.07 L1867.02 594.54 L1872.94 595.01 L1878.86 595.46 L1884.78 595.9 L1890.7 596.33 L1896.62 596.74 L1902.54 597.15 L1908.46 597.54 L1914.38 597.92 L1920.3 598.29 L1926.22 598.66 L1932.14 599.01 L1938.06 599.35 L1943.98 599.68 L1949.9 600.01 L1955.82 600.32 L1961.74 600.63 L1967.66 600.93 L1973.58 601.21 L1979.5 601.5" fill="none" stroke="#ffff00" stroke-width="4.6" stroke-linejoin="miter" stroke-miterlimit="4" stroke-linecap="butt" clip-path="url(#clip-b)"/>
<rect x="1864.5" y="47.5" width="109" height="100" fill="#fff" stroke="#999" stroke-width="1"/>
<path d="M1873.25 64.7 H1918.4" stroke="#ff0000" stroke-width="4.6"/>
<text x="1924.4" y="75" font-size="26.6" class="b">P#1</text>
<path d="M1873.25 97.5 H1918.4" stroke="#0000ff" stroke-width="4.6"/>
<text x="1924.4" y="107.8" font-size="26.6" class="b">P#2</text>
<path d="M1873.25 128.9 H1918.4" stroke="#ffff00" stroke-width="4.6"/>
<text x="1924.4" y="139.2" font-size="26.6" class="b">P#3</text>
<text transform="translate(1041,325.5) rotate(-90)" text-anchor="middle" font-size="26.9" class="b">Remote Insulin Level 1/min)</text>
<text x="1534" y="668" text-anchor="middle" font-size="26.7" class="b">Time (Minute)</text>
<text x="1092" y="32.8" font-size="26.9" class="b">x 10<tspan dx="0.2" dy="-16.5" font-size="18">-3</tspan></text>
</g>
<text x="1541" y="786" text-anchor="middle" font-size="58.5" class="r">(b)</text>
<g id="plot-c">
<path d="M570.5 868 V1449 M717.5 868 V1449 M866.5 868 V1449 M1016.5 868 V1449 M1167.5 868 V1449 M1317.5 868 V1449 M1467.5 868 V1449" fill="none" stroke="#000" stroke-opacity="0.28" stroke-width="1"/>
<path d="M570 1448.5 H1468 M570 1350.5 H1468 M570 1254.5 H1468 M570 1158.5 H1468 M570 1061.5 H1468 M570 965.5 H1468 M570 868.5 H1468" fill="none" stroke="#000" stroke-opacity="0.28" stroke-width="1"/>
<g fill="#2a2a2a" fill-opacity="0.85"><rect x="717.1" y="868.2" width="2.4" height="1.5"/><rect x="717.1" y="876.2" width="2.4" height="1.5"/><rect x="717.1" y="1439.1" width="2.4" height="1.5"/><rect x="866.1" y="868.2" width="2.4" height="1.5"/><rect x="866.1" y="876.2" width="2.4" height="1.5"/><rect x="866.1" y="1439.1" width="2.4" height="1.5"/><rect x="1016.1" y="868.2" width="2.4" height="1.5"/><rect x="1016.1" y="876.2" width="2.4" height="1.5"/><rect x="1016.1" y="1439.1" width="2.4" height="1.5"/><rect x="1167.1" y="868.2" width="2.4" height="1.5"/><rect x="1167.1" y="876.2" width="2.4" height="1.5"/><rect x="1167.1" y="1439.1" width="2.4" height="1.5"/><rect x="1317.1" y="868.2" width="2.4" height="1.5"/><rect x="1317.1" y="876.2" width="2.4" height="1.5"/><rect x="1317.1" y="1439.1" width="2.4" height="1.5"/><rect x="1467.1" y="868.2" width="2.4" height="1.5"/><rect x="1467.1" y="876.2" width="2.4" height="1.5"/><rect x="1467.1" y="1439.1" width="2.4" height="1.5"/><rect x="578.3" y="1448.1" width="2.4" height="1.5"/><rect x="1458.3" y="1448.1" width="2.4" height="1.5"/><rect x="1467.3" y="1448.1" width="2.4" height="1.5"/><rect x="578.3" y="1350.1" width="2.4" height="1.5"/><rect x="1458.3" y="1350.1" width="2.4" height="1.5"/><rect x="1467.3" y="1350.1" width="2.4" height="1.5"/><rect x="578.3" y="1254.1" width="2.4" height="1.5"/><rect x="1458.3" y="1254.1" width="2.4" height="1.5"/><rect x="1467.3" y="1254.1" width="2.4" height="1.5"/><rect x="578.3" y="1158.1" width="2.4" height="1.5"/><rect x="1458.3" y="1158.1" width="2.4" height="1.5"/><rect x="1467.3" y="1158.1" width="2.4" height="1.5"/><rect x="578.3" y="1061.1" width="2.4" height="1.5"/><rect x="1458.3" y="1061.1" width="2.4" height="1.5"/><rect x="1467.3" y="1061.1" width="2.4" height="1.5"/><rect x="578.3" y="965.1" width="2.4" height="1.5"/><rect x="1458.3" y="965.1" width="2.4" height="1.5"/><rect x="1467.3" y="965.1" width="2.4" height="1.5"/><rect x="578.3" y="868.1" width="2.4" height="1.5"/><rect x="1458.3" y="868.1" width="2.4" height="1.5"/><rect x="1467.3" y="868.1" width="2.4" height="1.5"/></g>
<text x="717.5" y="1475.7" text-anchor="middle" font-size="27.3" class="b">50</text>
<text x="866.5" y="1475.7" text-anchor="middle" font-size="27.3" class="b">100</text>
<text x="1016.5" y="1475.7" text-anchor="middle" font-size="27.3" class="b">150</text>
<text x="1167.5" y="1475.7" text-anchor="middle" font-size="27.3" class="b">200</text>
<text x="1317.5" y="1475.7" text-anchor="middle" font-size="27.3" class="b">250</text>
<text x="1467.5" y="1475.7" text-anchor="middle" font-size="27.3" class="b">300</text>
<text x="565.7" y="1457" text-anchor="end" font-size="27.3" class="b">0</text>
<text x="565.7" y="1359" text-anchor="end" font-size="27.3" class="b">10</text>
<text x="565.7" y="1263" text-anchor="end" font-size="27.3" class="b">20</text>
<text x="565.7" y="1167" text-anchor="end" font-size="27.3" class="b">30</text>
<text x="565.7" y="1070" text-anchor="end" font-size="27.3" class="b">40</text>
<text x="565.7" y="974" text-anchor="end" font-size="27.3" class="b">50</text>
<text x="565.7" y="877" text-anchor="end" font-size="27.3" class="b">60</text>
<path d="M570.5 984.5 L571.25 1010.39 L572 1034.6 L572.75 1057.22 L573.5 1078.36 L574.25 1098.12 L575 1116.6 L575.75 1133.86 L576.5 1150 L577.25 1165.08 L578 1179.17 L578.75 1192.35 L579.5 1204.66 L580.25 1216.17 L581 1226.93 L581.75 1236.99 L582.5 1246.39 L583.25 1255.17 L584 1263.38 L584.75 1271.05 L585.5 1278.23 L586.25 1284.93 L587 1291.2 L587.75 1297.05 L588.5 1302.53 L589.25 1307.64 L590 1312.42 L590.75 1316.89 L591.5 1321.07 L592.25 1324.98 L593 1328.63 L593.75 1332.04 L594.5 1335.22 L595.25 1338.2 L596 1340.99 L596.75 1343.59 L597.5 1346.03 L598.25 1348.3 L599 1350.43 L599.75 1352.41 L600.5 1354.27 L601.25 1356.01 L602 1357.63 L602.75 1359.14 L603.5 1360.56 L604.25 1361.89 L605 1363.12 L605.75 1364.28 L606.5 1365.36 L607.25 1366.37 L608 1367.32 L608.75 1368.2 L609.5 1369.03 L610.25 1369.8 L611 1370.52 L611.75 1371.19 L612.5 1371.82 L613.25 1372.41 L614 1372.96 L614.75 1373.48 L615.5 1373.96" fill="none" stroke="#ff0000" stroke-width="4.6" stroke-linejoin="miter" stroke-miterlimit="4" stroke-linecap="butt" clip-path="url(#clip-c)"/>
<path d="M570.5 983.53 L571.25 1006.44 L572 1028.02 L572.75 1048.35 L573.5 1067.51 L574.25 1085.56 L575 1102.56 L575.75 1118.59 L576.5 1133.69 L577.25 1147.91 L578 1161.32 L578.75 1173.95 L579.5 1185.84 L580.25 1197.06 L581 1207.62 L581.75 1217.57 L582.5 1226.95 L583.25 1235.79 L584 1244.12 L584.75 1251.96 L585.5 1259.35 L586.25 1266.32 L587 1272.88 L587.75 1279.06 L588.5 1284.88 L589.25 1290.37 L590 1295.55 L590.75 1300.42 L591.5 1305.01 L592.25 1309.33 L593 1313.41 L593.75 1317.25 L594.5 1320.87 L595.25 1324.28 L596 1327.49 L596.75 1330.52 L597.5 1333.37 L598.25 1336.06 L599 1338.59 L599.75 1340.97 L600.5 1343.22 L601.25 1345.34 L602 1347.33 L602.75 1349.21 L603.5 1350.98 L604.25 1352.65 L605 1354.23 L605.75 1355.71 L606.5 1357.1 L607.25 1358.42 L608 1359.66 L608.75 1360.83 L609.5 1361.93 L610.25 1362.96 L611 1363.94 L611.75 1364.86 L612.5 1365.73 L613.25 1366.54 L614 1367.31 L614.75 1368.04 L615.5 1368.72 L616.25 1369.37 L617 1369.97 L617.75 1370.55 L618.5 1371.08 L619.25 1371.59 L620 1372.07 L620.75 1372.52 L621.5 1372.95 L622.25 1373.35 L623 1373.72 L623.75 1374.08 L624.5 1374.41 L625.25 1374.73 L626 1375.02 L626.75 1375.3 L627.5 1375.57 L628.25 1375.82 L629 1376.05 L629.75 1376.27 L630.5 1376.48 L631.25 1376.67 L632 1376.86 L632.75 1377.03 L633.5 1377.2 L634.25 1377.35 L635 1377.5 L635.75 1377.63 L636.5 1377.76 L637.25 1377.88 L638 1378 L638.75 1378.11 L639.5 1378.21 L640.25 1378.3 L641 1378.39 L641.75 1378.48 L642.5 1378.56 L643.25 1378.63 L644 1378.71 L644.75 1378.77 L645.5 1378.84 L646.25 1378.9 L647 1378.95 L647.75 1379 L648.5 1379.05 L649.25 1379.1 L650 1379.15 L650.75 1379.19 L651.5 1379.23 L652.25 1379.26 L653 1379.3 L653.75 1379.33 L654.5 1379.36 L655.25 1379.39 L656 1379.42 L656.75 1379.44 L657.5 1379.47 L658.25 1379.49 L659 1379.51 L659.75 1379.53 L660.5 1379.55" fill="none" stroke="#0000ff" stroke-width="4.6" stroke-linejoin="miter" stroke-miterlimit="4" stroke-linecap="butt" clip-path="url(#clip-c)"/>
<path d="M570.5 868.5 L571.25 903.82 L572 936.7 L572.75 967.32 L573.5 995.83 L574.25 1022.37 L575 1047.08 L575.75 1070.09 L576.5 1091.51 L577.25 1111.45 L578 1130.02 L578.75 1147.31 L579.5 1163.41 L580.25 1178.4 L581 1192.36 L581.75 1205.35 L582.5 1217.45 L583.25 1228.71 L584 1239.2 L584.75 1248.96 L585.5 1258.05 L586.25 1266.52 L587 1274.4 L587.75 1281.73 L588.5 1288.57 L589.25 1294.93 L590 1300.85 L590.75 1306.36 L591.5 1311.5 L592.25 1316.28 L593 1320.73 L593.75 1324.87 L594.5 1328.73 L595.25 1332.32 L596 1335.66 L596.75 1338.78 L597.5 1341.68 L598.25 1344.38 L599 1346.89 L599.75 1349.23 L600.5 1351.41 L601.25 1353.44 L602 1355.33 L602.75 1357.08 L603.5 1358.72 L604.25 1360.25 L605 1361.66 L605.75 1362.99 L606.5 1364.22 L607.25 1365.36 L608 1366.43 L608.75 1367.42 L609.5 1368.35 L610.25 1369.21 L611 1370.01 L611.75 1370.75 L612.5 1371.45 L613.25 1372.1 L614 1372.7 L614.75 1373.26 L615.5 1373.78 L616.25 1374.27 L617 1374.72 L617.75 1375.14 L618.5 1375.53 L619.25 1375.9 L620 1376.24 L620.75 1376.56 L621.5 1376.85 L622.25 1377.13 L623 1377.38 L623.75 1377.62 L624.5 1377.84 L625.25 1378.05 L626 1378.24 L626.75 1378.42 L627.5 1378.58 L628.25 1378.74 L629 1378.88 L629.75 1379.02 L630.5 1379.14 L631.25 1379.26 L632 1379.37 L632.75 1379.47 L633.5 1379.56 L634.25 1379.65 L635 1379.73 L635.75 1379.81 L636.5 1379.88 L637.25 1379.94 L638 1380.01 L638.75 1380.06 L639.5 1380.12 L640.25 1380.17 L641 1380.21 L641.75 1380.25 L642.5 1380.29 L643.25 1380.33 L644 1380.37 L644.75 1380.4 L645.5 1380.43 L646.25 1380.46 L647 1380.48 L647.75 1380.51 L648.5 1380.53 L649.25 1380.55 L650 1380.57 L650.75 1380.59 L651.5 1380.6 L652.25 1380.62 L653 1380.64 L653.75 1380.65 L654.5 1380.66 L655.25 1380.67 L656 1380.68 L656.75 1380.69 L657.5 1380.7 L658.25 1380.71 L659 1380.72 L659.75 1380.73 L660.5 1380.74 L661.25 1380.74 L662 1380.75 L662.75 1380.75 L663.5 1380.76 L664.25 1380.77 L665 1380.77 L665.75 1380.77 L666.5 1380.78 L667.25 1380.78 L668 1380.79 L668.75 1380.79 L669.5 1380.79 L670.25 1380.79 L671 1380.8 L671.75 1380.8 L672.5 1380.8 L673.25 1380.8 L674 1380.81 L674.75 1380.81 L675.5 1380.81 L676.25 1380.81 L677 1380.81 L677.75 1380.81 L678.5 1380.82 L679.25 1380.82 L680 1380.82 L680.75 1380.82 L681.5 1380.82 L682.25 1380.82 L683 1380.82 L683.75 1380.82 L684.5 1380.82 L685.25 1380.82 L686 1380.82 L686.75 1380.83 L687.5 1380.83 L1467.5 1380.83" fill="none" stroke="#ffff00" stroke-width="4.6" stroke-linejoin="miter" stroke-miterlimit="4" stroke-linecap="butt" clip-path="url(#clip-c)"/>
<rect x="1278.5" y="876.5" width="183" height="102" fill="#fff" stroke="#999" stroke-width="1"/>
<path d="M1287.1 895 H1332" stroke="#ff0000" stroke-width="4.6"/>
<text x="1337" y="905.2" font-size="27.2" class="b">Patient #1</text>
<path d="M1287.1 927.7 H1332" stroke="#0000ff" stroke-width="4.6"/>
<text x="1337" y="937.9" font-size="27.2" class="b">Patient #2</text>
<path d="M1287.1 959.5 H1332" stroke="#ffff00" stroke-width="4.6"/>
<text x="1337" y="969.7" font-size="27.2" class="b">Patient #3</text>
<text transform="translate(526,1159.2) rotate(-90)" text-anchor="middle" font-size="27.1" class="b">Plasma Insulin Level (mU/L)</text>
<text x="1015.2" y="1524" text-anchor="middle" font-size="26.9" class="b">Time (Minute)</text>
</g>
<text x="982" y="1595.3" text-anchor="middle" font-size="58.5" class="r">(c)</text>
</svg>
</body>
</html>
